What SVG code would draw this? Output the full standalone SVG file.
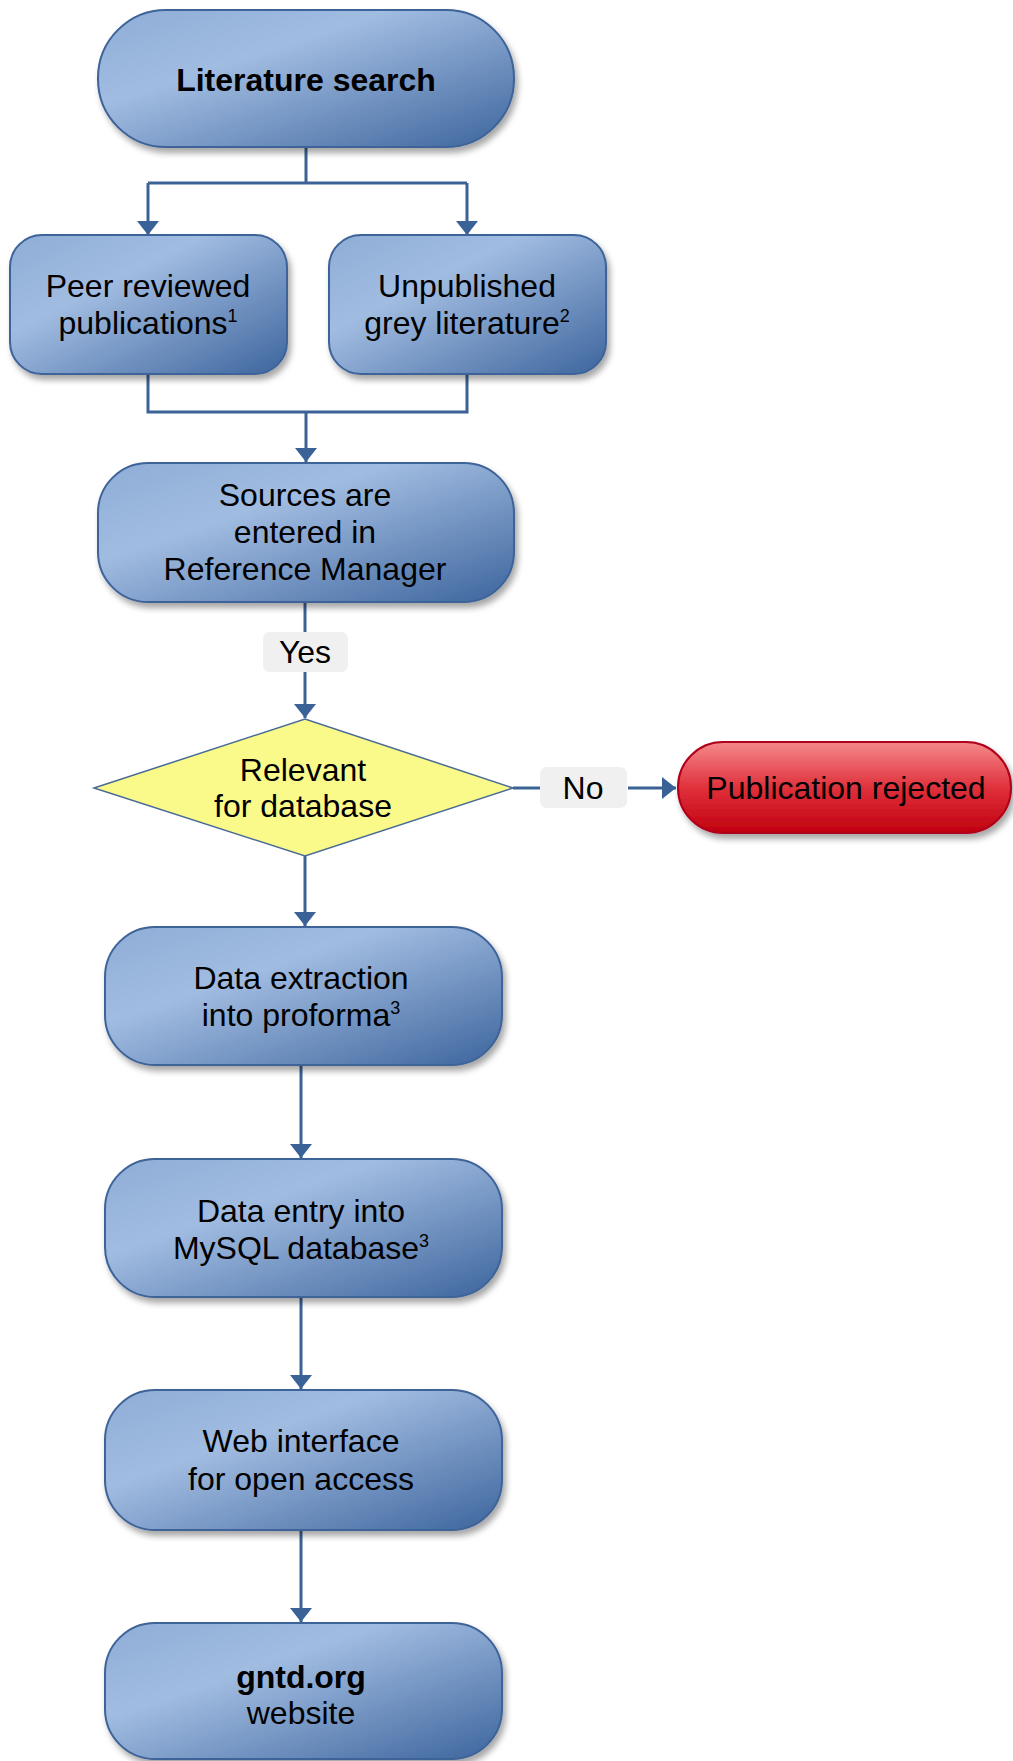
<svg xmlns="http://www.w3.org/2000/svg" width="1013" height="1761" viewBox="0 0 1013 1761">
<defs>
<linearGradient id="blue" x1="0" y1="0" x2="1" y2="1">
<stop offset="0" stop-color="#8eadd6"/>
<stop offset="0.35" stop-color="#a1bce1"/>
<stop offset="1" stop-color="#3d659d"/>
</linearGradient>
<linearGradient id="red" x1="0" y1="0" x2="0" y2="1">
<stop offset="0" stop-color="#f4898b"/>
<stop offset="0.5" stop-color="#e0313c"/>
<stop offset="1" stop-color="#c0000f"/>
</linearGradient>
<filter id="sh" x="-10%" y="-10%" width="125%" height="130%">
<feDropShadow dx="3" dy="5" stdDeviation="3" flood-color="#000" flood-opacity="0.35"/>
</filter>
<marker id="arr" viewBox="0 0 14 22" refX="14" refY="11" markerWidth="14" markerHeight="22" markerUnits="userSpaceOnUse" orient="auto">
<path d="M0,0 L14,11 L0,22 Z" fill="#3a6296"/>
</marker>
</defs>
<style>
.box{fill:url(#blue);stroke:#3d6398;stroke-width:2;filter:url(#sh)}
.rej{fill:url(#red);stroke:#b0001a;stroke-width:2;filter:url(#sh)}
.dia{fill:#fafa8a;stroke:#4a6a96;stroke-width:1.5}
.lbl{fill:#f0f0f0}
.c{fill:none;stroke:#3a6296;stroke-width:3}
text{font-family:"Liberation Sans",Arial,sans-serif;font-size:32px;fill:#000;text-anchor:middle}
.b{font-weight:bold}
.sup{font-size:18px}
</style>
<g id="connectors">
<path class="c" d="M306,147 V183 M148,183 H467"/>
<path class="c" d="M148,183 V235" marker-end="url(#arr)"/>
<path class="c" d="M467,183 V235" marker-end="url(#arr)"/>
<path class="c" d="M148,375 V412 H467 V375"/>
<path class="c" d="M306,412 V462" marker-end="url(#arr)"/>
<path class="c" d="M305,601 V632"/>
<path class="c" d="M305,672 V718" marker-end="url(#arr)"/>
<path class="c" d="M513,788 H540"/>
<path class="c" d="M628,788 H676" marker-end="url(#arr)"/>
<path class="c" d="M305,856 V926" marker-end="url(#arr)"/>
<path class="c" d="M301,1065 V1158" marker-end="url(#arr)"/>
<path class="c" d="M301,1297 V1389" marker-end="url(#arr)"/>
<path class="c" d="M301,1530 V1622" marker-end="url(#arr)"/>
<rect class="lbl" x="263" y="632" width="85" height="40" rx="7"/>
<text x="305" y="663">Yes</text>
<rect class="lbl" x="540" y="767" width="87" height="41" rx="7"/>
<text x="583" y="799">No</text>
</g>
<g id="literature-search">
<rect class="box" x="98" y="10" width="416" height="137" rx="68"/>
<text class="b" x="306" y="91">Literature search</text>
</g>
<g id="peer-reviewed">
<rect class="box" x="10" y="235" width="277" height="139" rx="32"/>
<text x="148" y="297">Peer reviewed</text>
<text x="148" y="334">publications<tspan class="sup" dy="-12">1</tspan></text>
</g>
<g id="unpublished">
<rect class="box" x="329" y="235" width="277" height="139" rx="32"/>
<text x="467" y="297">Unpublished</text>
<text x="467" y="334">grey literature<tspan class="sup" dy="-12">2</tspan></text>
</g>
<g id="sources">
<rect class="box" x="98" y="463" width="416" height="139" rx="50"/>
<text x="305" y="506">Sources are</text>
<text x="305" y="543">entered in</text>
<text x="305" y="580">Reference Manager</text>
</g>
<g id="relevant">
<polygon class="dia" points="94,788 305,719 513,788 305,856"/>
<text x="303" y="781">Relevant</text>
<text x="303" y="817">for database</text>
</g>
<g id="rejected">
<rect class="rej" x="678" y="742" width="333" height="91" rx="45"/>
<text x="846" y="799">Publication rejected</text>
</g>
<g id="data-extraction">
<rect class="box" x="105" y="927" width="397" height="138" rx="50"/>
<text x="301" y="989">Data extraction</text>
<text x="301" y="1026">into proforma<tspan class="sup" dy="-12">3</tspan></text>
</g>
<g id="data-entry">
<rect class="box" x="105" y="1159" width="397" height="138" rx="50"/>
<text x="301" y="1222">Data entry into</text>
<text x="301" y="1259">MySQL database<tspan class="sup" dy="-12">3</tspan></text>
</g>
<g id="web-interface">
<rect class="box" x="105" y="1390" width="397" height="140" rx="50"/>
<text x="301" y="1452">Web interface</text>
<text x="301" y="1490">for open access</text>
</g>
<g id="gntd">
<rect class="box" x="105" y="1623" width="397" height="136" rx="50"/>
<text class="b" x="301" y="1688">gntd.org</text>
<text x="301" y="1724">website</text>
</g>
</svg>
